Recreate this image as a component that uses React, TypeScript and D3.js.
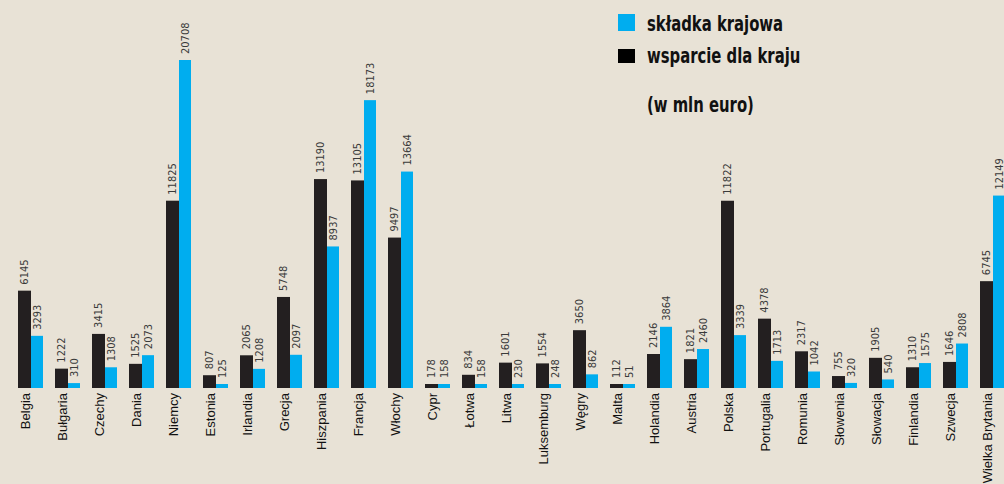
import React from "react";
import * as d3 from "d3";

const countries = ["Belgia","Bułgaria","Czechy","Dania","Niemcy","Estonia","Irlandia","Grecja","Hiszpania","Francja","Włochy","Cypr","Łotwa","Litwa","Luksemburg","Węgry","Malta","Holandia","Austria","Polska","Portugalia","Romunia","Słowenia","Słowacja","Finlandia","Szwecja","Wielka Brytania"];
const wsparcie = [6145,1222,3415,1525,11825,807,2065,5748,13190,13105,9497,178,834,1601,1554,3650,112,2146,1821,11822,4378,2317,755,1905,1310,1646,6745];
const skladka = [3293,310,1308,2073,20708,125,1208,2097,8937,18173,13664,158,158,230,248,862,51,3864,2460,3339,1713,1042,320,540,1575,2808,12149];
const legendLabels = ["składka krajowa", "wsparcie dla kraju"];
const unitLabel = "(w mln euro)";

const W = 1004, H = 484;
const BG = "#e8e2d6";
const BLUE = "#00adef";
const BLACK = "#231f20";
const baseline = 388;

export default function App() {
  const x = d3.scaleBand<string>().domain(countries).range([18, 18 + 37 * countries.length]).paddingInner(0).paddingOuter(0);
  const y = d3.scaleLinear().domain([0, 20708]).range([baseline, 60]);
  const bw1 = 13, bw2 = 12;
  const h = (v: number) => Math.max(baseline - y(v), 4);
  const numFont = "'Liberation Sans Narrow', 'DejaVu Sans Condensed', sans-serif";
  return (
    <svg width={W} height={H} style={{ position: "absolute", left: 0, top: 0, background: BG }}>
      <rect x={0} y={0} width={W} height={H} fill={BG} />
      {countries.map((c, i) => {
        const x0 = x(c) as number;
        const hb = h(wsparcie[i]);
        const hs = h(skladka[i]);
        const cxB = x0 + bw1 / 2;
        const cxS = x0 + bw1 + bw2 / 2;
        return (
          <g key={c}>
            <rect x={x0} y={baseline - hb} width={bw1} height={hb} fill={BLACK} />
            <rect x={x0 + bw1} y={baseline - hs} width={bw2} height={hs} fill={BLUE} />
            <text transform={`translate(${cxB},${baseline - hb - 6}) rotate(-90)`} fontFamily={numFont} fontSize={11} fill="#3a3a3a" dominantBaseline="central" textAnchor="start">{wsparcie[i]}</text>
            <text transform={`translate(${cxS},${baseline - hs - 6}) rotate(-90)`} fontFamily={numFont} fontSize={11} fill="#3a3a3a" dominantBaseline="central" textAnchor="start">{skladka[i]}</text>
            <text transform={`translate(${cxB + 1},${baseline + 5}) rotate(-90)`} fontFamily="'Liberation Sans', Arial, sans-serif" fontSize={13} fill="#111" dominantBaseline="central" textAnchor="end">{c}</text>
          </g>
        );
      })}
      <rect x={618} y={14} width={17} height={17} fill={BLUE} />
      <rect x={618} y={49} width={17} height={14} fill="#000" />
      <g fontFamily="'DejaVu Sans Condensed', 'Liberation Sans Narrow', sans-serif" fontWeight="bold" fontSize={22} fill="#111">
        <text transform="translate(647,31) scale(0.75,1)">{legendLabels[0]}</text>
        <text transform="translate(647,63) scale(0.75,1)">{legendLabels[1]}</text>
        <text transform="translate(647,112) scale(0.75,1)">{unitLabel}</text>
      </g>
    </svg>
  );
}
